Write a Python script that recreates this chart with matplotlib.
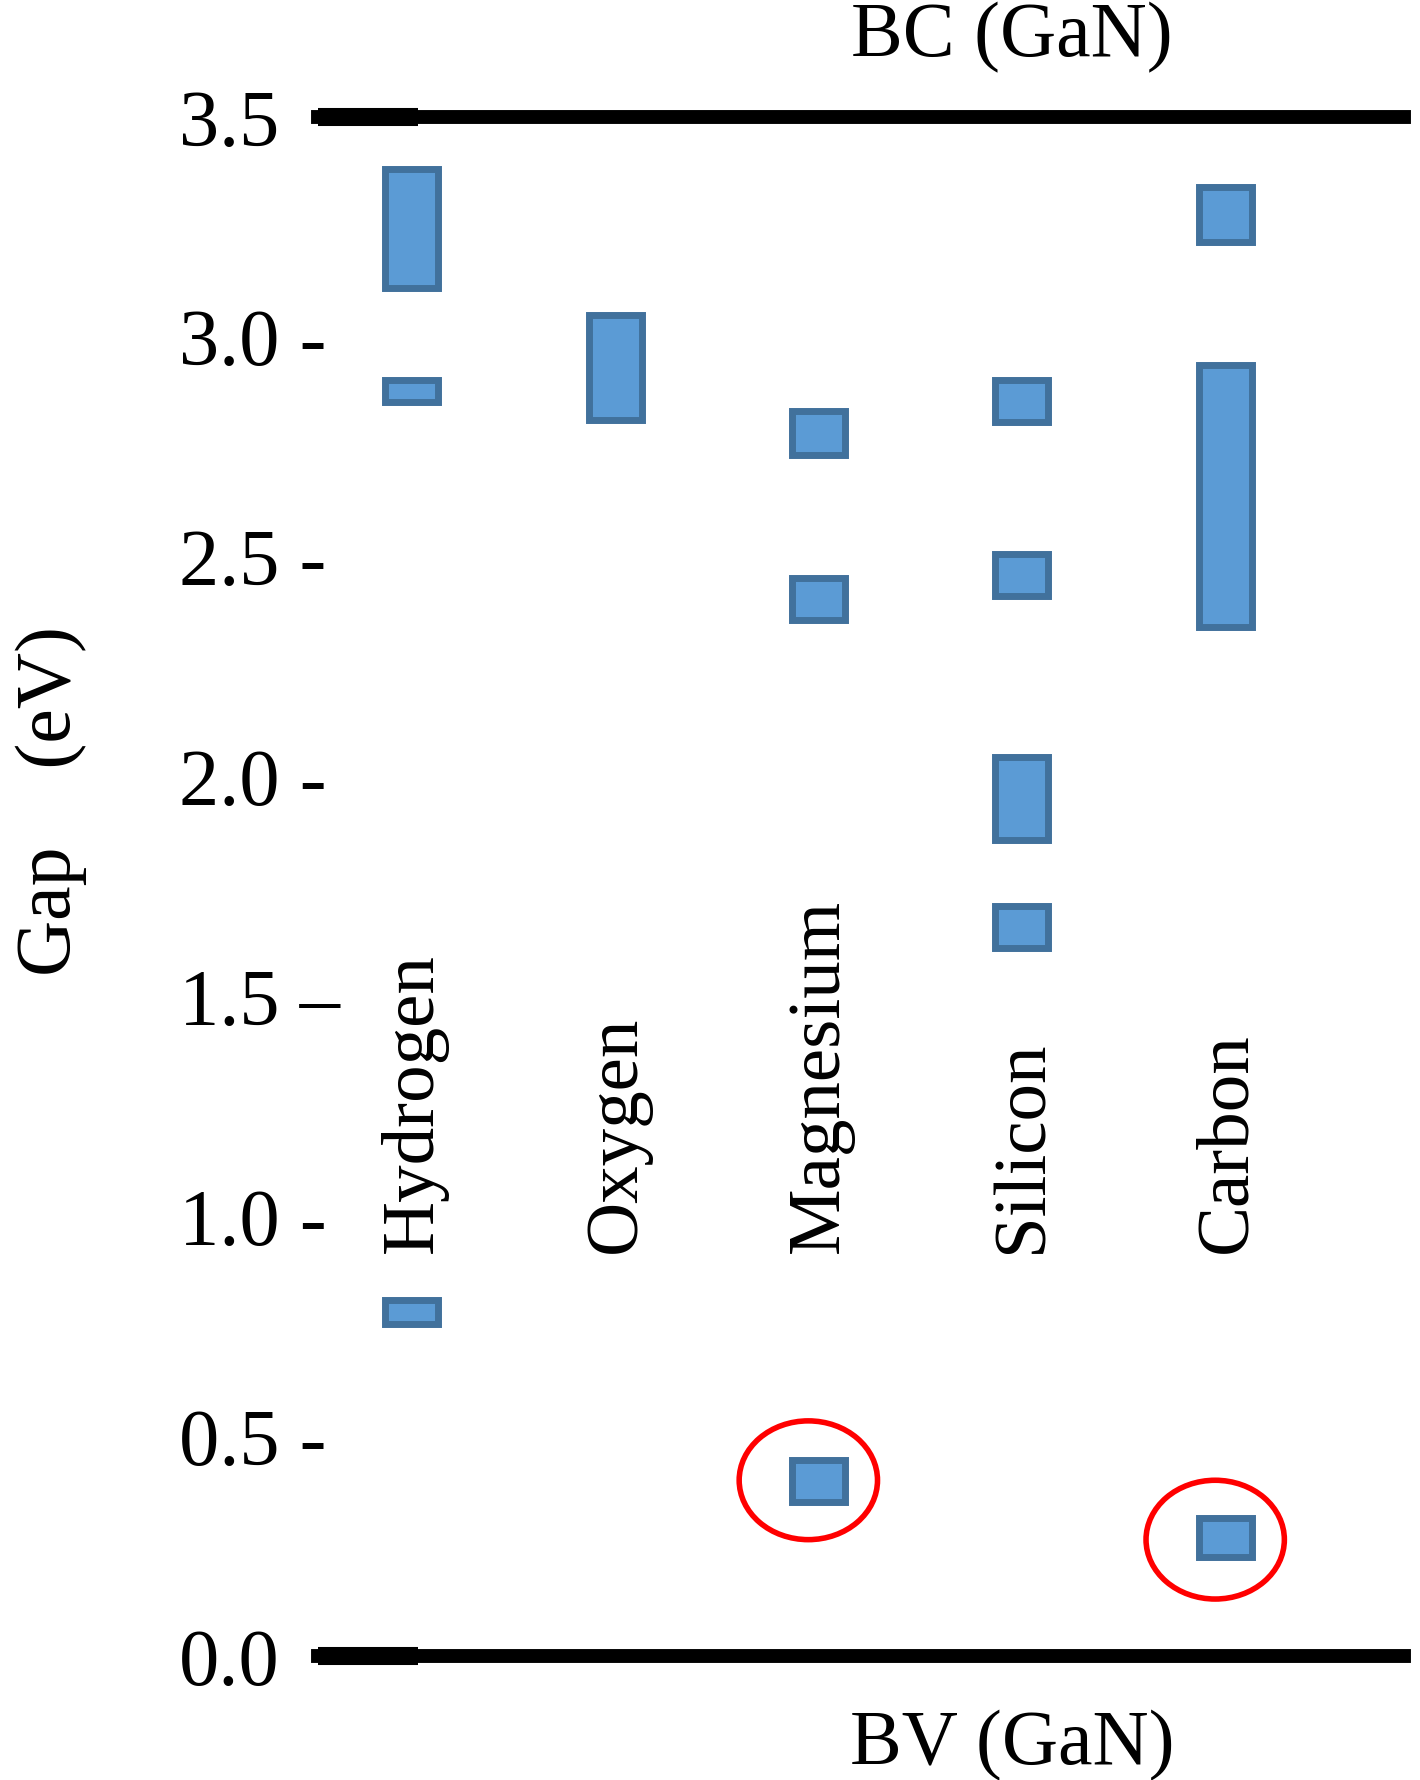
import matplotlib.pyplot as plt
from matplotlib.patches import Rectangle, Ellipse

elements = ["Hydrogen", "Oxygen", "Magnesium", "Silicon", "Carbon"]
# (low, high) in eV for each level band
levels = {
    "Hydrogen": [(3.11, 3.38), (2.85, 2.90), (0.755, 0.81)],
    "Oxygen": [(2.81, 3.05)],
    "Magnesium": [(2.73, 2.83), (2.355, 2.45), (0.35, 0.445)],
    "Silicon": [(2.805, 2.90), (2.41, 2.505), (1.855, 2.045), (1.61, 1.705)],
    "Carbon": [(3.215, 3.34), (2.34, 2.935), (0.225, 0.315)],
}
circled = [("Magnesium", 0.40), ("Carbon", 0.265)]
yticks = [0.0, 0.5, 1.0, 1.5, 2.0, 2.5, 3.0, 3.5]
ytick_labels = ["0.0", "0.5 -", "1.0 -", "1.5 \u2013", "2.0 -", "2.5 -", "3.0 -", "3.5"]

plt.rcParams["font.family"] = ["Liberation Serif", "DejaVu Serif"]
fig = plt.figure(figsize=(14.2, 17.81), dpi=100)
ax = fig.add_axes([0.224, 0.0695, 0.765, 0.8645])
ax.set_xlim(0.54, 5.88)
ax.set_ylim(0.0, 3.5)

for i, name in enumerate(elements, start=1):
    for lo, hi in levels[name]:
        ax.add_patch(Rectangle((i - 0.13, lo), 0.26, hi - lo, facecolor="#5B9BD5",
                               edgecolor="#41719C", linewidth=5, clip_on=False))
    ax.text(i + 0.01, 0.92, name, rotation=90, ha="center", va="bottom", fontsize=54)

for name, y in circled:
    i = elements.index(name) + 1
    ax.add_patch(Ellipse((i - 0.05, y), 0.68, 0.27, facecolor="none",
                         edgecolor="red", linewidth=4, clip_on=False))

ax.axhline(3.5, color="black", linewidth=10, clip_on=False)
ax.axhline(0.0, color="black", linewidth=10, clip_on=False)
for y in (3.5, 0.0):
    ax.plot([0.54, 1.03], [y, y], color="black", linewidth=13, solid_capstyle="butt", clip_on=False)

for s in ax.spines.values():
    s.set_visible(False)
ax.set_xticks([])
ax.set_yticks(yticks)
ax.set_yticklabels(ytick_labels, fontsize=58, ha="left")
ax.tick_params(axis="y", length=0, pad=100)

fig.text(0.036, 0.55, "Gap    (eV)", rotation=90, ha="center", va="center", fontsize=56)
ax.text(3.95, 3.6, "BC (GaN)", ha="center", va="bottom", fontsize=56)
ax.text(3.95, -0.12, "BV (GaN)", ha="center", va="top", fontsize=56)

fig.savefig("out.png", dpi=100)
